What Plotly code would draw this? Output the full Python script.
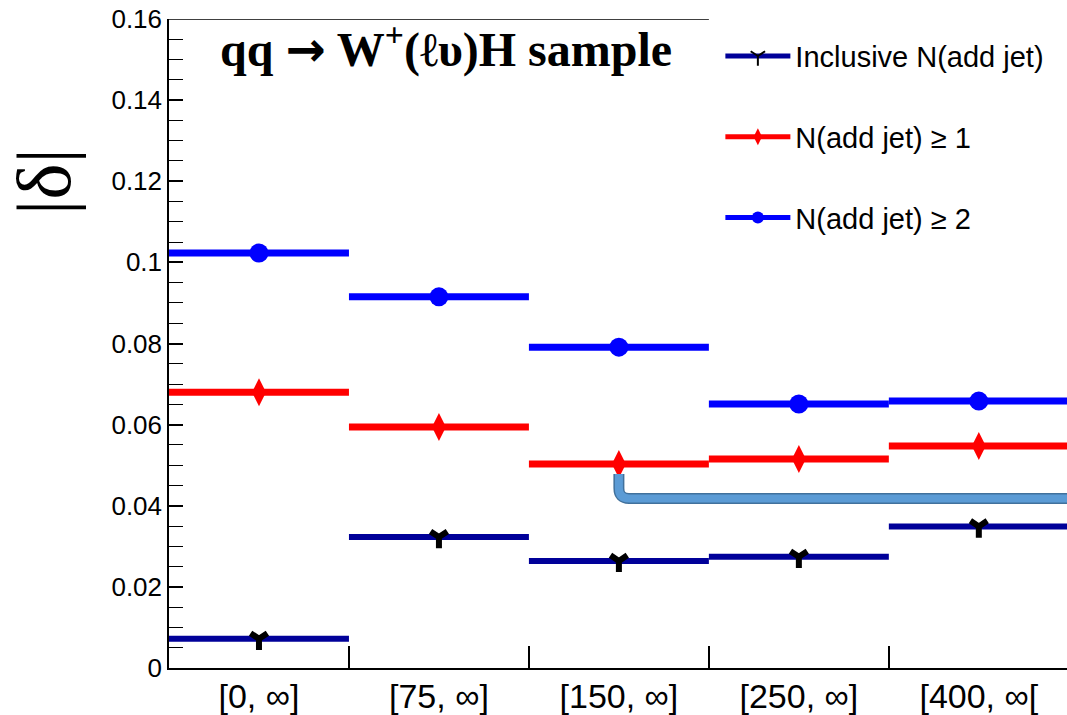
import plotly.graph_objects as go

# ---- data ----
bins = ["[0, ∞]", "[75, ∞]", "[150, ∞]", "[250, ∞]", "[400, ∞["]
incl = [0.0072, 0.0323, 0.0264, 0.0274, 0.0349]
ge1 = [0.0680, 0.0594, 0.0503, 0.0515, 0.0547]
ge2 = [0.1023, 0.0915, 0.0791, 0.0651, 0.0658]
names = ["Inclusive N(add jet)", "N(add jet) ≥ 1", "N(add jet) ≥ 2"]


def segs(vals, msize):
    xs, ys, ss = [], [], []
    for i, v in enumerate(vals):
        xs += [i, i + 0.5, i + 1, None]
        ys += [v, v, v, None]
        ss += [0, msize, 0, 0]
    return xs, ys, ss


fig = go.Figure()

styles = [
    (incl, "#000099", 6, dict(symbol="y-down", color="black", line=dict(color="black", width=6)), 14),
    (ge1, "#ff0000", 7, dict(symbol="diamond-tall", color="#ff0000", line=dict(width=0)), 20),
    (ge2, "#0000ff", 7, dict(symbol="circle", color="#0000ff", line=dict(width=0)), 19),
]
for k, (vals, col, lw, mk, ms) in enumerate(styles):
    xs, ys, ss = segs(vals, ms)
    mk = dict(mk)
    mk["size"] = ss
    mk["opacity"] = 1
    fig.add_trace(go.Scatter(
        x=xs, y=ys, mode="lines+markers", name=names[k],
        line=dict(color=col, width=lw), marker=mk,
        legendgroup=str(k),
    ))

# top frame line (partially hidden by legend box in the original)
fig.add_shape(type="line", xref="x", yref="y", x0=0, x1=3.0, y0=0.16, y1=0.16,
              line=dict(color="black", width=1.5), layer="above")

# bracket decoration (x in bin units, y in data units)
path = "M 2.5 0.0478 L 2.5 0.0443 Q 2.5 0.0418 2.556 0.0418 L 5.2 0.0418"
fig.add_shape(type="path", path=path, xref="x", yref="y",
              line=dict(color="#41719c", width=11), layer="above")
fig.add_shape(type="path", path=path, xref="x", yref="y",
              line=dict(color="#5b9bd5", width=8), layer="above")

fig.update_layout(
    width=1067, height=715,
    margin=dict(l=169, r=0, t=19, b=47, autoexpand=False),
    paper_bgcolor="white", plot_bgcolor="white",
    showlegend=True,
    legend=dict(
        x=0.614, y=0.982, xanchor="left", yanchor="top",
        bgcolor="rgba(0,0,0,0)", borderwidth=0,
        font=dict(family="Liberation Sans, Arial", size=29, color="black"),
        tracegroupgap=40, itemsizing="constant", traceorder="grouped",
        itemwidth=65,
    ),
    xaxis=dict(
        range=[0, 4.99], showgrid=False, zeroline=False,
        showline=True, linecolor="black", linewidth=1.5, mirror=False,
        tickmode="array", tickvals=[0.5, 1.5, 2.5, 3.5, 4.5], ticktext=bins,
        ticks="", ticklabelstandoff=-3,
        tickfont=dict(family="Liberation Sans, Arial", size=34, color="black"),
        minor=dict(tickmode="array", tickvals=[1, 2, 3, 4], ticks="inside",
                   ticklen=22, tickcolor="black", tickwidth=1.5),
    ),
    yaxis=dict(
        range=[0, 0.16], showgrid=False, zeroline=False,
        showline=True, linecolor="black", linewidth=1.5, mirror=False,
        tickmode="linear", tick0=0, dtick=0.02, tickformat="~g",
        ticks="inside", ticklen=14, tickcolor="black", tickwidth=1.5,
        ticklabelstandoff=0,
        tickfont=dict(family="Liberation Sans, Arial", size=26, color="black"),
        minor=dict(dtick=0.005, ticks="inside", ticklen=14, tickcolor="black", tickwidth=1.2),
    ),
)

fig.add_annotation(
    text="<b>qq <span style='font-family:DejaVu Sans'>→</span> W<sup>+</sup>(ℓυ)H sample</b>",
    xref="paper", yref="paper", x=0.0546, y=0.958, xanchor="left", yanchor="middle",
    showarrow=False, font=dict(family="Liberation Serif, Times New Roman", size=48, color="black"),
)
fig.add_annotation(
    text="|δ|", textangle=-90,
    xref="paper", yref="paper", x=-0.139, y=0.749, xanchor="center", yanchor="middle",
    showarrow=False, font=dict(family="Liberation Serif, DejaVu Serif", size=77, color="black"),
)

fig.write_html("out.html", config={"displayModeBar": False},
               post_script="document.body.style.margin='0';document.body.style.overflow='hidden';")
